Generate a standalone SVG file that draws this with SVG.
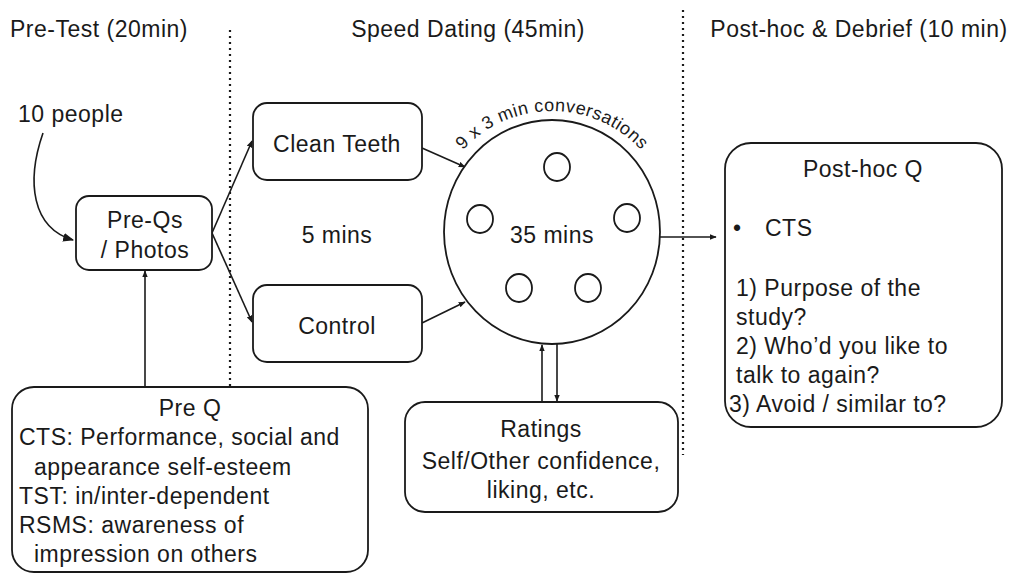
<svg xmlns="http://www.w3.org/2000/svg" width="1018" height="574" viewBox="0 0 1018 574">
<style>
text{font-family:"Liberation Sans",Arial,sans-serif;font-size:23px;fill:#1a1a1a;letter-spacing:0.5px}
.box{fill:#fff;stroke:#1a1a1a;stroke-width:1.8}
.c{text-anchor:middle}
.ln{fill:none;stroke:#1a1a1a;stroke-width:1.6}
.dot{fill:none;stroke:#1a1a1a;stroke-width:2.2;stroke-dasharray:2 4}
.arc{font-size:18px;letter-spacing:0.5px}
</style>
<defs>
<marker id="ah" viewBox="0 0 10 10" refX="9" refY="5" markerWidth="7" markerHeight="7" orient="auto" markerUnits="userSpaceOnUse">
<path d="M0,1 L10,5 L0,9 z" fill="#1a1a1a"/>
</marker>
<marker id="ahb" viewBox="0 0 10 10" refX="9" refY="5" markerWidth="11" markerHeight="11" orient="auto" markerUnits="userSpaceOnUse">
<path d="M0,1 L10,5 L0,9 z" fill="#1a1a1a"/>
</marker>
<path id="arcp" d="M 431 232 A 121 121 0 0 1 673 232"/>
</defs>
<rect width="1018" height="574" fill="#fff"/>
<g id="headers">
<text x="10" y="37">Pre-Test (20min)</text>
<text x="468" y="37" class="c">Speed Dating (45min)</text>
<text x="859" y="37" class="c">Post-hoc &amp; Debrief (10 min)</text>
<line class="dot" x1="230" y1="30" x2="230" y2="386"/>
<line class="dot" x1="683" y1="10" x2="683" y2="455"/>
</g>
<g id="connectors">
<path class="ln" d="M 43 133 C 26 182, 32 228, 73 240" stroke-width="2.8" marker-end="url(#ahb)"/>
<line class="ln" x1="212" y1="233" x2="252" y2="141" marker-end="url(#ah)"/>
<line class="ln" x1="212" y1="233" x2="252" y2="322" marker-end="url(#ah)"/>
<line class="ln" x1="422" y1="148" x2="465" y2="167" marker-end="url(#ah)"/>
<line class="ln" x1="422" y1="323" x2="465" y2="302" marker-end="url(#ah)"/>
<line class="ln" x1="660" y1="237" x2="716" y2="237" marker-end="url(#ah)"/>
<line class="ln" x1="145" y1="387" x2="145" y2="271" marker-end="url(#ah)"/>
<line class="ln" x1="542" y1="402" x2="542" y2="345" marker-end="url(#ah)"/>
<line class="ln" x1="557" y1="343" x2="557" y2="401" marker-end="url(#ah)"/>
</g>
<g id="people">
<text x="18" y="122">10 people</text>
</g>
<g id="preqs">
<rect class="box" x="76" y="196" width="136" height="74" rx="13"/>
<text x="145" y="228" class="c">Pre-Qs</text>
<text x="145" y="258" class="c">/ Photos</text>
</g>
<g id="clean">
<rect class="box" x="253" y="103" width="169" height="77" rx="14"/>
<text x="337" y="152" class="c">Clean Teeth</text>
</g>
<text x="337" y="243" class="c">5 mins</text>
<g id="control">
<rect class="box" x="253" y="285" width="169" height="77" rx="14"/>
<text x="337" y="334" class="c">Control</text>
</g>
<g id="dating">
<ellipse class="box" cx="552" cy="232" rx="108" ry="112" stroke-width="2.3"/>
<ellipse class="box" cx="557" cy="167" rx="13" ry="14"/>
<ellipse class="box" cx="480" cy="219" rx="13" ry="14"/>
<ellipse class="box" cx="627" cy="218" rx="13" ry="14"/>
<ellipse class="box" cx="519" cy="288" rx="13" ry="14"/>
<ellipse class="box" cx="588" cy="288" rx="13" ry="14"/>
<text x="552" y="243" class="c">35 mins</text>
<text class="arc"><textPath href="#arcp" startOffset="50%" text-anchor="middle">9 x 3 min conversations</textPath></text>
</g>
<g id="posthoc">
<rect class="box" x="725" y="143" width="277" height="284" rx="26"/>
<text x="863" y="177" class="c">Post-hoc Q</text>
<text x="733" y="236">•</text>
<text x="765" y="236">CTS</text>
<text x="736" y="296">1) Purpose of the</text>
<text x="736" y="325">study?</text>
<text x="736" y="354">2) Who’d you like to</text>
<text x="736" y="383">talk to again?</text>
<text x="729" y="412">3) Avoid / similar to?</text>
</g>
<g id="ratings">
<rect class="box" x="405" y="402" width="273" height="110" rx="20"/>
<text x="541" y="437" class="c">Ratings</text>
<text x="541" y="469" class="c">Self/Other confidence,</text>
<text x="541" y="498" class="c">liking, etc.</text>
</g>
<g id="preq">
<rect class="box" x="12" y="387" width="356" height="185" rx="22"/>
<text x="190" y="416" class="c">Pre Q</text>
<text x="19" y="445">CTS: Performance, social and</text>
<text x="34" y="475">appearance self-esteem</text>
<text x="19" y="504">TST: in/inter-dependent</text>
<text x="19" y="533">RSMS: awareness of</text>
<text x="34" y="562">impression on others</text>
</g>
</svg>
